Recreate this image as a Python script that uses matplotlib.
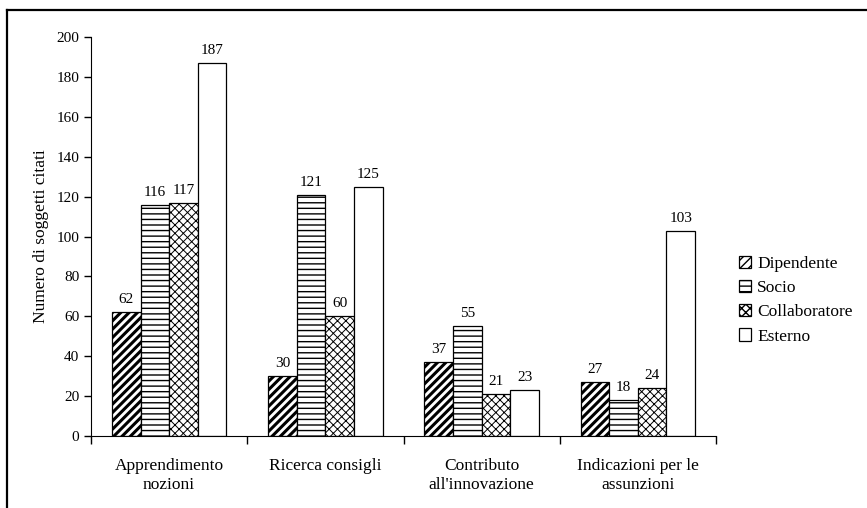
import numpy as np
import matplotlib.pyplot as plt
from matplotlib.lines import Line2D

plt.rcParams['font.family'] = ['Liberation Serif', 'DejaVu Serif']

# dati
categorie = ['Apprendimento\nnozioni', 'Ricerca consigli', 'Contributo\nall\'innovazione',
             'Indicazioni per le\nassunzioni']
serie = ['Dipendente', 'Socio', 'Collaboratore', 'Esterno']
dipendente = [62, 30, 37, 27]
socio = [116, 121, 55, 18]
collaboratore = [117, 60, 21, 24]
esterno = [187, 125, 23, 103]

valori = [dipendente, socio, collaboratore, esterno]
tratteggi = ['////', '---', 'xxxx', '']
spessori = [2.2, 1.0, 0.7, 1.0]

fig = plt.figure(figsize=(8.67, 5.08), dpi=100)
ax = fig.add_axes([91 / 867, 72 / 508, (716 - 91) / 867, (436 - 37) / 508])

x = np.arange(len(categorie))
w = 0.183
for i, (nome, v) in enumerate(zip(serie, valori)):
    pos = x + (i - 1.5) * w
    with plt.rc_context({'hatch.linewidth': spessori[i]}):
        barre = ax.bar(pos, v, width=w, color='white', edgecolor='black',
                       linewidth=0.9, hatch=tratteggi[i], label=nome)
        for b in barre:
            if hasattr(b, 'set_hatch_linewidth'):
                b.set_hatch_linewidth(spessori[i])
    for p, val in zip(pos, v):
        ax.text(p, val + 3, str(val), ha='center', va='bottom', fontsize=11)

ax.set_xlim(-0.5, 3.5)
ax.set_ylim(0, 200)
ax.set_yticks(np.arange(0, 201, 20))
ax.set_xticks(np.arange(-0.5, 3.6, 1))
ax.set_xticklabels([])
ax.set_xticks(x, minor=True)
ax.set_xticklabels(categorie, minor=True, fontsize=12.5, linespacing=1.25)
ax.tick_params(axis='x', which='major', direction='out', length=6, width=1)
ax.tick_params(axis='x', which='minor', length=0, pad=16)
ax.tick_params(axis='y', direction='out', length=5, width=1, labelsize=11)
ax.spines['top'].set_visible(False)
ax.spines['right'].set_visible(False)
ax.set_ylabel('Numero di soggetti citati', fontsize=12.5, labelpad=5)

leg = ax.legend(loc='center left', bbox_to_anchor=(1.012, 0.34), frameon=False,
                fontsize=12.5, handlelength=0.7, handleheight=0.7,
                handletextpad=0.35, labelspacing=0.46)

# cornice (solo sinistra e alto)
fig.add_artist(Line2D([7 / 867, 7 / 867], [0, 1 - 10 / 508], color='black', lw=1.6,
                      transform=fig.transFigure))
fig.add_artist(Line2D([7 / 867, 1], [1 - 10 / 508, 1 - 10 / 508], color='black', lw=1.6,
                      transform=fig.transFigure))

fig.savefig('out.png', dpi=100)
